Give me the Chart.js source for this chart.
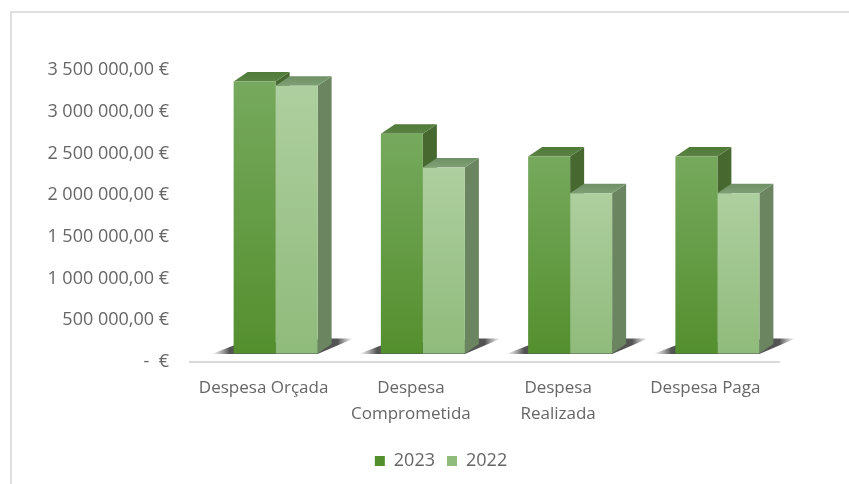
<!DOCTYPE html>
<html>
<head>
<meta charset="utf-8">
<style>
  html, body { margin: 0; padding: 0; background: #fff; overflow: hidden; }
  #frame { position: absolute; left: 10px; top: 11px; width: 900px; height: 600px; border: 2px solid #dedede; }
  #wrap { position: absolute; left: 0; top: 0; width: 849px; height: 484px; }
</style>
<script src="https://cdn.jsdelivr.net/npm/chart.js@4"></script>
</head>
<body>
<div id="frame"></div>
<div id="wrap"><canvas id="chart"></canvas></div>
<script>
const categories = ["Despesa Orçada", ["Despesa", "Comprometida"], ["Despesa", "Realizada"], "Despesa Paga"];
const values2023 = [3260000, 2635000, 2360000, 2360000];
const values2022 = [3210000, 2230000, 1920000, 1920000];
const seriesNames = ["2023", "2022"];
const tickValues = [0, 500000, 1000000, 1500000, 2000000, 2500000, 3000000, 3500000];

const colors = {
    "2023": { light: "#76a95d", dark: "#548f2e", side: "#47692f", topBack: "#4f7a38", topFront: "#5b8345" },
    "2022": { light: "#aecf9f", dark: "#8fbb7b", side: "#6a8560", topBack: "#6f9064", topFront: "#7f9f74" }
};

// Offset of the bars from the axis plane, and the depth of the 3D boxes
const planeX = 12, planeY = -8.5;
const depthX = 14, depthY = -9.5;

function frontColor(name) {
    return (context) => {
        const chart = context.chart;
        if (!chart.chartArea || context.raw === undefined) return colors[name].dark;
        const top = chart.scales.y.getPixelForValue(context.raw);
        const gradient = chart.ctx.createLinearGradient(0, top, 0, chart.scales.y.getPixelForValue(0));
        gradient.addColorStop(0, colors[name].light);
        gradient.addColorStop(1, colors[name].dark);
        return gradient;
    };
}

function fillPolygon(ctx, points, fill) {
    ctx.fillStyle = fill;
    ctx.beginPath();
    points.forEach((p, i) => (i ? ctx.lineTo(p[0], p[1]) : ctx.moveTo(p[0], p[1])));
    ctx.closePath();
    ctx.fill();
}

// Draws floor shadows, tops and sides; Chart.js itself draws the front faces on top
const boxes3d = {
    id: "boxes3d",
    afterLayout(chart) {
        // The legend sits right of the plot centre in the original
        chart.legend.left += 35;
        chart.legend.right += 35;
    },
    beforeDatasetsDraw(chart) {
        const ctx = chart.ctx;
        ctx.save();
        ctx.translate(planeX, planeY);
        const first = chart.getDatasetMeta(0).data;
        const second = chart.getDatasetMeta(1).data;

        first.forEach((bar, i) => {
            const left = bar.x - bar.width / 2;
            const right = second[i].x + second[i].width / 2;
            const base = bar.base;
            const shadow = ctx.createLinearGradient(left - 22, 0, right + 36, 0);
            const span = right + 36 - left + 22;
            shadow.addColorStop(0, "rgba(110,110,110,0)");
            shadow.addColorStop(18 / span, "rgba(65,65,65,0.9)");
            shadow.addColorStop((right + depthX + 6 - left + 22) / span, "rgba(65,65,65,0.9)");
            shadow.addColorStop(1, "rgba(110,110,110,0)");
            fillPolygon(ctx, [[left - 22, base + 0.5], [left, base - 8], [right + depthX, base - 15], [right + 36, base - 15], [right, base + 0.5]], shadow);
        });

        [first, second].forEach((bars, d) => {
            const c = colors[seriesNames[d]];
            bars.forEach((bar) => {
                const l = bar.x - bar.width / 2, r = bar.x + bar.width / 2;
                const t = bar.y, b = bar.base;
                fillPolygon(ctx, [[r, t], [r + depthX, t + depthY], [r + depthX, b + depthY], [r, b]], c.side);
                const top = ctx.createLinearGradient(0, t + depthY, 0, t);
                top.addColorStop(0, c.topBack);
                top.addColorStop(1, c.topFront);
                fillPolygon(ctx, [[l, t], [l + depthX, t + depthY], [r + depthX, t + depthY], [r, t]], top);
            });
        });
    },
    afterDatasetsDraw(chart) {
        chart.ctx.restore();
    }
};

new Chart(document.getElementById("chart"), {
    type: "bar",
    data: {
        labels: categories,
        datasets: [
            { label: seriesNames[0], data: values2023, backgroundColor: frontColor("2023"), clip: false },
            { label: seriesNames[1], data: values2022, backgroundColor: frontColor("2022"), clip: false }
        ]
    },
    plugins: [boxes3d],
    options: {
        responsive: true,
        maintainAspectRatio: false,
        animation: false,
        devicePixelRatio: 1,
        categoryPercentage: 0.5705,
        barPercentage: 1,
        layout: { padding: { left: 33, right: 70, top: 70, bottom: 4 } },
        plugins: {
            tooltip: { enabled: false },
            legend: {
                position: "bottom",
                labels: {
                    boxWidth: 10,
                    boxHeight: 10,
                    padding: 12,
                    color: "#666666",
                    font: { family: "'Open Sans'", size: 18 }
                }
            }
        },
        scales: {
            x: {
                grid: { display: false, drawTicks: false },
                border: { display: true, color: "#d9d9d9", width: 2 },
                afterFit(scale) { scale.height = 78; },
                ticks: {
                    autoSkip: false,
                    maxRotation: 0,
                    minRotation: 0,
                    padding: 13,
                    color: "#666666",
                    font: { family: "'Open Sans'", size: 17, lineHeight: 1.53 }
                }
            },
            y: {
                min: 0,
                max: 3500000,
                grid: { display: false, drawTicks: false },
                border: { display: false },
                afterFit(scale) { scale.width = 157; },
                afterBuildTicks(scale) { scale.ticks = tickValues.map((value) => ({ value })); },
                ticks: {
                    padding: 21,
                    color: "#666666",
                    font: { family: "'Open Sans'", size: 18 },
                    callback(value) {
                        if (value === 0) return "-  €";
                        const whole = String(value).replace(/\B(?=(\d{3})+$)/g, " ");
                        return whole + ",00 €";
                    }
                }
            }
        }
    }
});
</script>
</body>
</html>
